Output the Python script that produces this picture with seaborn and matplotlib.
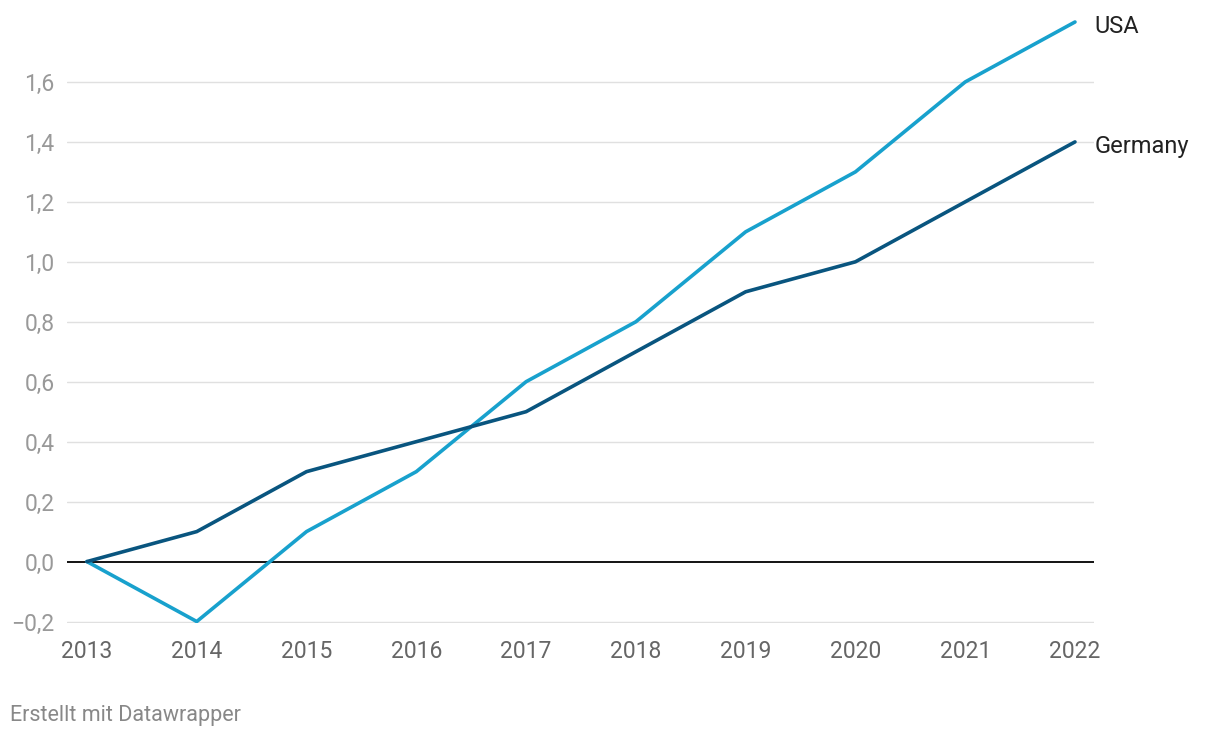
import pandas as pd
import matplotlib
matplotlib.use('Agg')
import matplotlib.pyplot as plt
import seaborn as sns

# Data
years = [2013, 2014, 2015, 2016, 2017, 2018, 2019, 2020, 2021, 2022]
usa = [0.0, -0.2, 0.1, 0.3, 0.6, 0.8, 1.1, 1.3, 1.6, 1.8]
germany = [0.0, 0.1, 0.3, 0.4, 0.5, 0.7, 0.9, 1.0, 1.2, 1.4]
series_names = ['USA', 'Germany']
series_colors = {'USA': '#18a1cd', 'Germany': '#09557f'}
y_ticks = [-0.2, 0.0, 0.2, 0.4, 0.6, 0.8, 1.0, 1.2, 1.4, 1.6]
footer = 'Erstellt mit Datawrapper'

df = pd.DataFrame({'year': years * 2,
                   'value': usa + germany,
                   'country': ['USA'] * len(years) + ['Germany'] * len(years)})

sns.set_style('white')
plt.rcParams['font.family'] = ['Roboto', 'DejaVu Sans']

fig = plt.figure(figsize=(12.2, 7.38), dpi=100)
ax = fig.add_axes([0.0549, 0.1558, 0.8418, 0.8347])

# grid lines
for t in y_ticks:
    if t == 0:
        continue
    ax.axhline(t, color='#e0e0e0', lw=1.0, zorder=0)
ax.axhline(0, color='#000000', lw=1.3, zorder=1)

sns.lineplot(data=df, x='year', y='value', hue='country', hue_order=series_names,
             palette=series_colors, lw=2.6, legend=False, ax=ax, zorder=3)

ax.set_xlim(2012.818, 2022.173)
ax.set_ylim(-0.205, 1.85)
ax.set_xticks(years)
ax.set_xticklabels([str(y) for y in years])
ax.set_yticks(y_ticks)
ax.set_yticklabels([f'{t:.1f}'.replace('.', ',').replace('-', '\u2212') for t in y_ticks])
ax.tick_params(axis='x', length=0, pad=12, labelsize=16.5, labelcolor='#666666')
ax.tick_params(axis='y', length=0, pad=9, labelsize=16.5, labelcolor='#999999')
ax.set_xlabel('')
ax.set_ylabel('')
for s in ax.spines.values():
    s.set_visible(False)

# direct labels
for name, vals in zip(series_names, [usa, germany]):
    ax.annotate(name, xy=(years[-1], vals[-1]), xytext=(14, -3), textcoords='offset points',
                ha='left', va='center', fontsize=17, color='#222222', annotation_clip=False)

fig.text(10 / 1220, 1 - 715 / 738, footer, ha='left', va='center', fontsize=15.5, color='#888888')

fig.savefig('out.png', dpi=100)
plt.close(fig)
